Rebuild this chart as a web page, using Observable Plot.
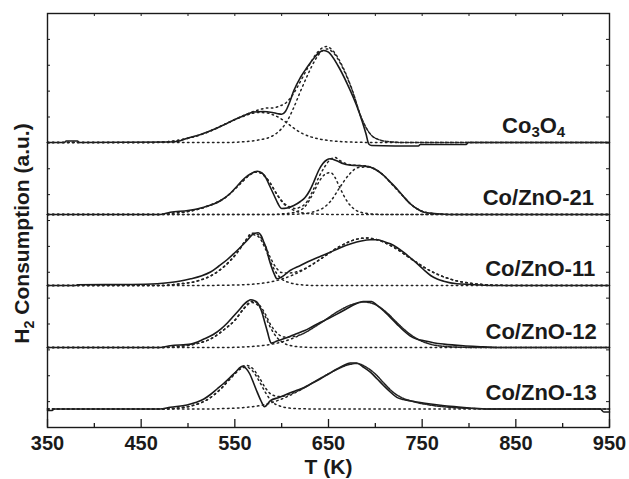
<!DOCTYPE html>
<html><head><meta charset="utf-8">
<script src="https://cdn.jsdelivr.net/npm/d3@7"></script>
<script src="https://cdn.jsdelivr.net/npm/@observablehq/plot@0.6"></script>
<style>
body{margin:0;background:#fff;}
#chart{width:629px;height:479px;}
</style></head><body><div id="chart"></div>
<script>
// ---- data (T in K, H2 consumption in a.u.) ----
const sampleNames = ["Co3O4", "Co/ZnO-21", "Co/ZnO-11", "Co/ZnO-12", "Co/ZnO-13"];
const baselines = [285, 213, 142, 80, 18.5];
const xTicks = [350, 450, 550, 650, 750, 850, 950];
const xMinorTicks = [400, 500, 600, 700, 800, 900];
const xTopTicks = [400, 450, 500, 550, 600, 650, 700, 750, 800, 850, 900];
const yTicks = [25.875, 51.75, 77.625, 103.5, 129.375, 155.25, 181.125, 207, 232.875, 258.75, 284.625, 310.5, 336.375, 362.25, 388.125];
const labelX = [869, 874, 876, 877, 877];
const labelY = [302, 229.5, 159, 96, 34.5];

const co3o4Solid = [[350,0],[368,0],[370,1.5],[382,1.5],[384,0],[480,0.5],[490,1.3],[500,4.5],[510,7],[520,10.3],[530,14],[540,18.5],[550,23],[560,27],[570,30.5],[580,31],[590,30],[596,28.8],[600,28.3],[604,31],[608,39],[613,52],[620,65],[627,75],[635,85],[640,90],[645,92],[650,90.3],[660,77],[670,58.7],[680,37],[686,21],[690,8.7],[693,-1.5],[696,-3],[746,-3.5],[748,-2],[797,-2],[799,0],[950,0]];
const co3o4A = [[350,0],[460,0],[480,1],[500,4.2],[520,10],[540,18.5],[560,26.5],[575,30],[585,29.5],[590,28],[598,24.5],[605,20],[612,15],[620,10],[630,6],[640,3.5],[655,1.5],[675,0.4],[700,0],[950,0]];
const co3o4B = [[350,0],[540,0],[560,0.8],[575,2.5],[590,6.5],[598,12],[605,20],[612,33],[620,51],[628,68],[636,83],[644,92],[648,93.5],[655,90],[665,75],[675,53],[685,25],[695,8],[705,2.5],[715,0.8],[730,0],[950,0]];
const co3o4Fit = [[350,0],[460,0],[480,1],[500,4.2],[520,10],[540,18.5],[560,27.3],[575,32.5],[585,34.5],[590,34.5],[598,36.5],[605,40],[612,48],[620,61],[628,75],[636,87.5],[644,95],[648,96],[655,91.5],[665,76],[675,53.4],[685,25.2],[695,8.1],[705,2.5],[715,0.8],[730,0],[950,0]];

const zn21Solid = [[350,0],[470,0],[481,2.3],[500,4],[517,7.3],[535,14],[545,21],[553,29],[560,36],[567,40.7],[574,43.3],[579,41.5],[583,37],[587,29],[592,19],[596,11],[600,6],[606,6.5],[613,9],[620,13],[625,17],[630,24],[634,32],[640,45],[644,51],[648,54.5],[652,55.7],[658,54],[666,50.7],[672,49.5],[679,49],[687,48.5],[695,47.3],[702,44],[709,39],[716,32.5],[723,25.7],[730,18],[737,11],[744,6],[752,2.3],[766,0.7],[780,0],[950,0]];
const zn21A = [[350,0],[470,0],[480,1],[500,3],[520,8],[540,17],[555,30],[565,39],[573,42.5],[580,40],[588,31],[595,20],[602,11],[610,5.5],[615,3.5],[620,2],[625,1.2],[633,0.6],[645,0.2],[660,0],[950,0]];
const zn21B = [[350,0],[590,0],[600,0.6],[610,1.5],[615,2.5],[625,8],[633,20],[640,33],[646,40],[652,42],[657,37],[662,27],[670,13],[678,5],[688,1.5],[700,0.3],[715,0],[950,0]];
const zn21C = [[350,0],[600,0],[620,0.5],[635,3],[645,7],[652,13],[662,27],[672,40],[682,47],[692,47.5],[700,45],[709,39],[716,32],[723,25],[730,18],[737,11],[745,5.5],[752,2.5],[765,0.7],[780,0],[950,0]];
const zn21Fit = [[350,0],[470,0],[480,1],[500,3],[520,8],[540,17],[555,30],[565,39],[573,42.5],[580,40],[588,31],[595,20],[602,11.8],[610,7],[615,6],[620,7.5],[625,10.5],[633,23.2],[640,38],[646,47.8],[652,55],[657,57],[662,54],[670,50.5],[678,49.2],[688,48.8],[700,45.3],[709,39],[716,32],[723,25],[730,18],[737,11],[745,5.5],[752,2.5],[765,0.7],[780,0],[950,0]];

const zn11Solid = [[350,0],[380,0],[382,0.8],[440,1],[467,1.7],[481,3],[492,4.5],[503,6.7],[514,9.5],[524,13.5],[533,19.5],[542,26],[549,32],[556,38.3],[563,45],[570,51.7],[575,52.7],[578,50],[581,43.3],[584,36],[586,28.3],[589,19],[592,11.7],[595,6.7],[600,8.5],[609,15],[620,20],[631,25],[641,29],[652,33.3],[662,37.5],[674,41.7],[685,44.5],[695,45.7],[702,45.7],[709,44],[716,41.7],[723,38],[730,33.3],[737,28],[745,21.7],[752,15.5],[759,10],[766,6.5],[773,4.3],[787,1.7],[802,1],[816,0.3],[830,0],[950,0]];
const zn11A = [[350,0],[470,0],[490,1.5],[510,4.5],[525,10],[540,20],[552,32],[562,45],[568,51],[575,49],[582,38],[588,24],[594,13],[600,6.5],[608,3],[618,1],[635,0],[950,0]];
const zn11B = [[350,0],[520,0],[540,0.3],[560,0.8],[580,2.4],[600,6.4],[620,14],[640,25.5],[660,38],[680,46.3],[690,47.5],[700,46.3],[720,38],[740,25.5],[760,14],[780,6.4],[800,2.4],[820,0.7],[850,0],[950,0]];
const zn11Fit = [[350,0],[470,0],[490,1.5],[510,4.5],[525,10],[540,20.3],[552,32.5],[562,45.9],[568,52.3],[575,50.8],[582,40.5],[588,27.8],[594,18],[600,12.9],[608,12.5],[618,14.3],[630,19.5],[640,25.5],[660,38],[680,46.3],[690,47.5],[700,46.3],[720,38],[740,25.5],[760,14],[780,6.4],[800,2.4],[820,0.7],[850,0],[950,0]];

const zn12Solid = [[350,0],[470,0],[481,1.7],[503,3.4],[517,8.4],[527,13],[535,18.4],[542,24.5],[549,31.7],[555,38],[560,43.4],[564,46.5],[567,47.7],[571,46.8],[574,45],[577,40],[579,35],[582,25],[585,15],[587,8],[589,4.4],[595,6.5],[606,10],[615,13.5],[624,16.7],[633,21],[641,25],[650,29],[659,33.4],[668,38],[677,42.7],[687,46],[696,46],[702,42],[709,36.7],[716,30],[723,23.4],[730,17],[737,11.7],[744,8.5],[752,6.7],[762,4.8],[773,3.4],[794,1.7],[815,0.7],[830,0],[950,0]];
const zn12A = [[350,0],[470,0],[490,1],[510,4],[525,9],[540,19],[550,27],[560,39],[568,45],[575,42],[582,32],[588,20],[595,10],[603,4],[612,1.5],[625,0.3],[640,0],[950,0]];
const zn12B = [[350,0],[540,0],[560,0.6],[580,2],[600,5.5],[620,12.5],[640,23.5],[660,36],[675,43],[688,45.5],[700,43],[712,35],[724,24],[736,14],[748,7],[760,3],[775,1],[790,0.3],[810,0],[950,0]];
const zn12Fit = [[350,0],[470,0],[490,1],[510,4],[525,9],[540,19],[550,27.3],[560,39.6],[568,46.2],[575,43.6],[582,34.3],[588,23.2],[595,14.5],[603,10.5],[612,11],[620,12.8],[640,23.5],[660,36],[675,43],[688,45.5],[700,43],[712,35],[724,24],[736,14],[748,7],[760,3],[775,1],[790,0.3],[810,0],[950,0]];

const zn13Solid = [[350,-1.5],[355,-1.5],[357,0],[470,0],[481,1.7],[499,4],[508,6.5],[517,10],[524,14.5],[531,20],[538,25.5],[545,31.6],[551,37],[558,42.6],[562,40.5],[566,35],[570,26],[574,16.6],[578,8],[581.6,2.3],[588,8.3],[597,11.5],[606,15],[615,18.3],[624,21.6],[632,25.5],[641,30],[650,35],[659,40],[666,43.5],[673,46],[680,46],[687,42],[695,36.6],[702,30],[709,23.3],[716,17],[723,11.6],[730,9.5],[737,8.3],[748,6.5],[759,5],[770,3.7],[780,2.6],[801,1],[820,0],[940,0],[944,-3],[950,-3]];
const zn13A = [[350,0],[470,0],[490,1],[505,3.5],[520,9],[535,20],[547,32],[556,40],[562,42],[569,38],[576,28],[583,16],[590,7],[598,3],[608,1],[620,0.3],[635,0],[950,0]];
const zn13B = [[350,0],[520,0],[540,0.5],[560,1.5],[580,4],[600,10],[620,19],[640,30],[660,40],[672,44.5],[680,45.5],[690,42],[700,35],[710,25],[720,16],[730,10.5],[740,7.5],[755,4.5],[770,2.5],[790,1],[810,0.3],[830,0],[950,0]];
const zn13Fit = [[350,0],[470,0],[490,1],[505,3.5],[520,9],[535,20.2],[547,32.8],[556,41.3],[562,43.6],[569,40.5],[576,31.5],[583,20.6],[590,14],[598,12.4],[608,14.6],[620,19.3],[640,30],[660,40],[672,44.5],[680,45.5],[690,42],[700,35],[710,25],[720,16],[730,10.5],[740,7.5],[755,4.5],[770,2.5],[790,1],[810,0.3],[830,0],[950,0]];

// ---- chart ----
const samples = [
  {solid: co3o4Solid, dotted: [co3o4A, co3o4B, co3o4Fit]},
  {solid: zn21Solid, dotted: [zn21A, zn21B, zn21C, zn21Fit]},
  {solid: zn11Solid, dotted: [zn11A, zn11B, zn11Fit]},
  {solid: zn12Solid, dotted: [zn12A, zn12B, zn12Fit]},
  {solid: zn13Solid, dotted: [zn13A, zn13B, zn13Fit]}
];

const ink = "#1a1a1a";
const marks = [];
samples.forEach((s, i) => {
  marks.push(Plot.line(s.solid, {x: d => d[0], y: d => d[1] + baselines[i], curve: "monotone-x", stroke: ink, strokeWidth: 1.6}));
  s.dotted.forEach(p => {
    marks.push(Plot.line(p, {x: d => d[0], y: d => d[1] + baselines[i], curve: "monotone-x", stroke: "#222", strokeWidth: 1.5, strokeDasharray: "1.5,3.5"}));
  });
});

const chart = Plot.plot({
  width: 629, height: 479,
  marginTop: 13, marginBottom: 52, marginLeft: 47, marginRight: 20,
  x: {domain: [350, 950]},
  y: {domain: [0, 414], axis: null},
  style: {fontFamily: '"Liberation Sans", Arial, Helvetica, sans-serif', background: "#fff", color: ink},
  marks: [
    ...marks,
    Plot.ruleX(xTicks, {x: d => d, insetTop: 406, stroke: ink, strokeWidth: 1.3}),
    Plot.ruleX(xMinorTicks, {x: d => d, insetTop: 410, stroke: ink, strokeWidth: 1.3}),
    Plot.ruleX(xTopTicks, {x: d => d, insetBottom: 411, stroke: ink, strokeWidth: 1}),
    Plot.ruleY(yTicks, {y: d => d, insetRight: 559, stroke: ink, strokeWidth: 1}),
    Plot.ruleY(yTicks, {y: d => d, insetLeft: 559, stroke: ink, strokeWidth: 1}),
    Plot.frame({stroke: ink, strokeWidth: 1.4}),
    Plot.axisX(xTicks, {anchor: "bottom", tickSize: 0, tickPadding: 8, fontSize: 20, fontWeight: "bold", label: null, tickFormat: d => String(d), fill: ink}),
    Plot.text(["T (K)"], {frameAnchor: "bottom", lineAnchor: "top", dy: 32, fontSize: 21, fontWeight: "bold", fill: ink, text: d => d}),
    Plot.text(["H2 Consumption (a.u.)"], {frameAnchor: "left", rotate: -90, dx: -25, dy: 13, textAnchor: "middle", lineAnchor: "middle", fontSize: 21, fontWeight: "bold", fill: ink, text: d => d}),
    Plot.text(sampleNames, {x: (d, i) => labelX[i], y: (d, i) => labelY[i], text: d => d, textAnchor: "middle", lineAnchor: "middle", fontSize: 22, fontWeight: "bold", fill: ink})
  ]
});
document.getElementById("chart").appendChild(chart);

// chemical subscripts (digit directly after a letter)
d3.select(chart).selectAll("text").each(function () {
  const el = this;
  const t = el.textContent;
  if (!/[A-Za-z]\d/.test(t)) return;
  const fs = parseFloat(getComputedStyle(el).fontSize) || 20;
  const parts = t.split(/(?<=[A-Za-z])(\d+)/);
  while (el.firstChild) el.removeChild(el.firstChild);
  const ns = "http://www.w3.org/2000/svg";
  let shifted = false;
  parts.forEach((p, k) => {
    if (p === "") return;
    const ts = document.createElementNS(ns, "tspan");
    ts.textContent = p;
    if (k % 2 === 1) {
      ts.setAttribute("font-size", (fs * 0.68).toFixed(1));
      ts.setAttribute("dy", (fs * 0.22).toFixed(1));
      shifted = true;
    } else if (shifted) {
      ts.setAttribute("dy", (-fs * 0.22).toFixed(1));
      shifted = false;
    }
    el.appendChild(ts);
  });
});
</script>
</body></html>
